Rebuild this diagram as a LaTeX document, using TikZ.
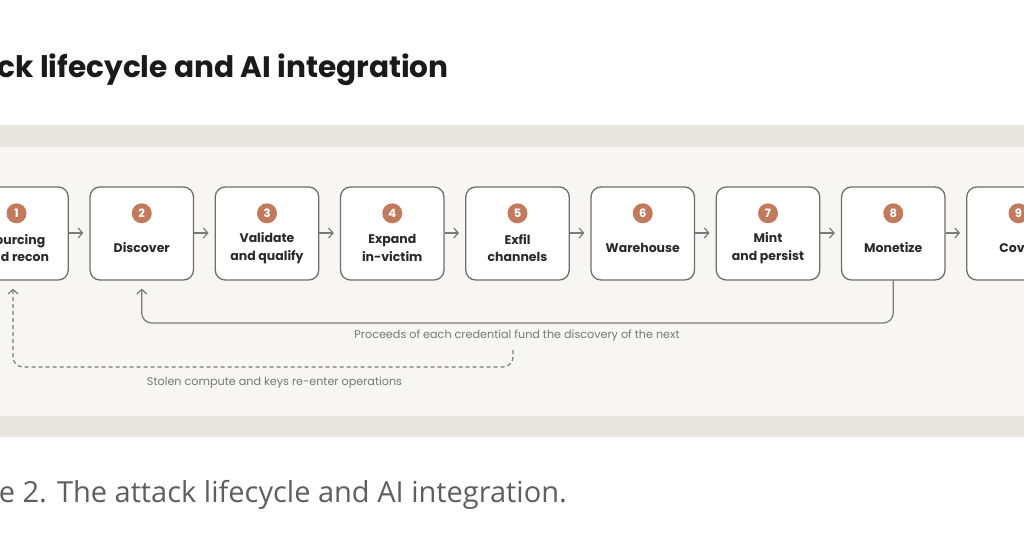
\documentclass[tikz,border=0pt]{standalone}
\usepackage{fontspec}
\setmainfont{Poppins}
\newfontfamily\capfont{Open Sans}
\usetikzlibrary{arrows.meta,calc}
\definecolor{band}{HTML}{E9E6E0}
\definecolor{panel}{HTML}{F7F6F2}
\definecolor{stroke}{HTML}{6E6E6E}
\definecolor{terra}{HTML}{C27A5C}
\definecolor{conn}{HTML}{7A7A7A}
\definecolor{labtxt}{HTML}{777777}
\definecolor{titletxt}{HTML}{1A1A1A}
\definecolor{captxt}{HTML}{5E5E5E}
\definecolor{boxtxt}{HTML}{2A2A2A}
\tikzset{
  stage/.style={draw=stroke, line width=1.3pt, fill=white, rounded corners=10pt,
    minimum width=103.5pt, minimum height=93pt, inner sep=0pt},
  badge/.style={circle, fill=terra, minimum size=20pt, inner sep=0pt,
    text=white, font=\fontsize{11.5}{11.5}\selectfont\bfseries},
  stagelab/.style={align=center, text=boxtxt, font=\fontsize{12.5}{17.4}\selectfont\bfseries},
  flow/.style={draw=conn, line width=1.2pt, -{Straight Barb[length=4.5pt,width=10pt,line width=1.2pt]}},
  loopnote/.style={text=labtxt, font=\fontsize{11.2}{13}\selectfont},
}
\begin{document}
\begin{tikzpicture}[x=1pt,y=-1pt]
\useasboundingbox (0,0) rectangle (1024,537);
\clip (0,0) rectangle (1024,537);
\fill[white] (0,0) rectangle (1024,537);
\fill[band] (0,125) rectangle (1024,437);
\fill[panel] (0,147) rectangle (1024,416);

\node[anchor=base east, text=titletxt, font=\fontsize{29.6}{31}\selectfont\bfseries, inner sep=0pt] (title) at (449,78) {The attack lifecycle and AI integration};

\foreach \i/\a/\b [count=\k from 0] in {1/Sourcing/and recon, 2/Discover/, 3/Validate/and qualify, 4/Expand/in-victim, 5/Exfil/channels, 6/Warehouse/, 7/Mint/and persist, 8/Monetize/, 9/Cover/}{
  \pgfmathsetmacro{\cx}{16.5+\k*125.25}
  \node[stage] (b\i) at (\cx,233.5) {};
  \node[badge] (n\i) at (\cx,213.3) {\i};
  \if\relax\detokenize\expandafter{\b}\relax
    \node[stagelab] (l\i) at (\cx,248) {\a};
  \else
    \node[stagelab] (l\i) at (\cx,248) {\a\\\b};
  \fi
}

\foreach \i [evaluate=\i as \j using int(\i+1)] in {1,...,8}{
  \draw[flow, shorten >=6pt] ([yshift=0.5pt]b\i.east) -- ([yshift=0.5pt]b\j.west);
}

\coordinate (y1) at (0,323);
\draw[flow, rounded corners=10pt, shorten >=8pt] (b8.south) -- (b8.south |- y1) -- (b2.south |- y1) -- (b2.south);
\node[loopnote] (note1) at (517,336) {Proceeds of each credential fund the discovery of the next};

\coordinate (d0) at (513,350);
\coordinate (y2) at (0,367);
\coordinate (d1) at ([xshift=-3.5pt]b1.south);
\draw[flow, dash pattern=on 4pt off 3pt, rounded corners=10pt, shorten >=8pt] (d0) -- (d0 |- y2) -- (d1 |- y2) -- (d1);
\node[loopnote] (note2) at (274.5,382.5) {Stolen compute and keys re-enter operations};

\node[anchor=base east, text=captxt, font=\capfont\fontsize{29}{32}\selectfont, inner sep=0pt] (cap) at (567,502) {Figure 2. The attack lifecycle and AI integration.};
\end{tikzpicture}
\end{document}
